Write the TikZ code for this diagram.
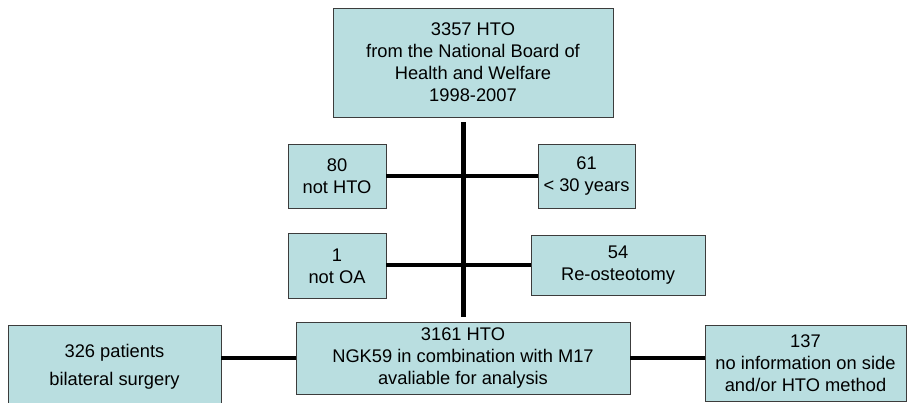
\documentclass[tikz,border=0pt]{standalone}
\usepackage{fontspec}
\setmainfont{Liberation Sans}
\definecolor{paleteal}{RGB}{185,222,224}
\definecolor{boxedge}{RGB}{60,60,60}
\tikzset{
    flowbox/.style={draw=boxedge,line width=0.9pt,fill=paleteal,align=center,
        inner sep=0pt,font=\fontsize{18.3}{22}\selectfont},
    bar/.style={line width=4.5pt}
}

\begin{document}
\begin{tikzpicture}[x=1pt,y=-1pt]
        \useasboundingbox (0,0) rectangle (914,403);

        \node[flowbox,minimum width=280pt,minimum height=109pt] (total) at (473,62.5)
            {3357 HTO\\from the National Board of\\Health and Welfare\\1998-2007};

        \node[flowbox,minimum width=98pt,minimum height=64pt] (nothto) at (337,176) {80\\not HTO};
        \node[flowbox,minimum width=97pt,minimum height=64pt] (young) at (586.5,176) {61\\< 30 years};

        \node[flowbox,minimum width=98pt,minimum height=65pt] (notoa) at (337,266) {1\\not OA};
        \node[flowbox,minimum width=174pt,minimum height=60pt] (reost) at (618,265) {54\\Re-osteotomy};

        \node[flowbox,minimum width=334pt,minimum height=72pt] (final) at (463,358)
            {3161 HTO\\NGK59 in combination with M17\\avaliable for analysis};
        \node[flowbox,minimum width=213pt,minimum height=84pt] (bilat) at (114.5,367)
            {326 patients\\[6pt]bilateral surgery};
        \node[flowbox,minimum width=201pt,minimum height=76pt] (noinfo) at (805.5,363)
            {137\\no information on side\\and/or HTO method};

        % trunk
        \draw[line width=5pt,shorten <=5pt,shorten >=5pt] (total.south -| final.north) -- (final.north);

        \draw[bar] (nothto.east) -- (young.west);
        \draw[bar] (notoa.east |- reost.west) -- (reost.west);
        \draw[bar] (bilat.east |- final.west) -- (final.west);
        \draw[bar] (final.east) -- (noinfo.west |- final.east);
    \end{tikzpicture}
\end{document}
